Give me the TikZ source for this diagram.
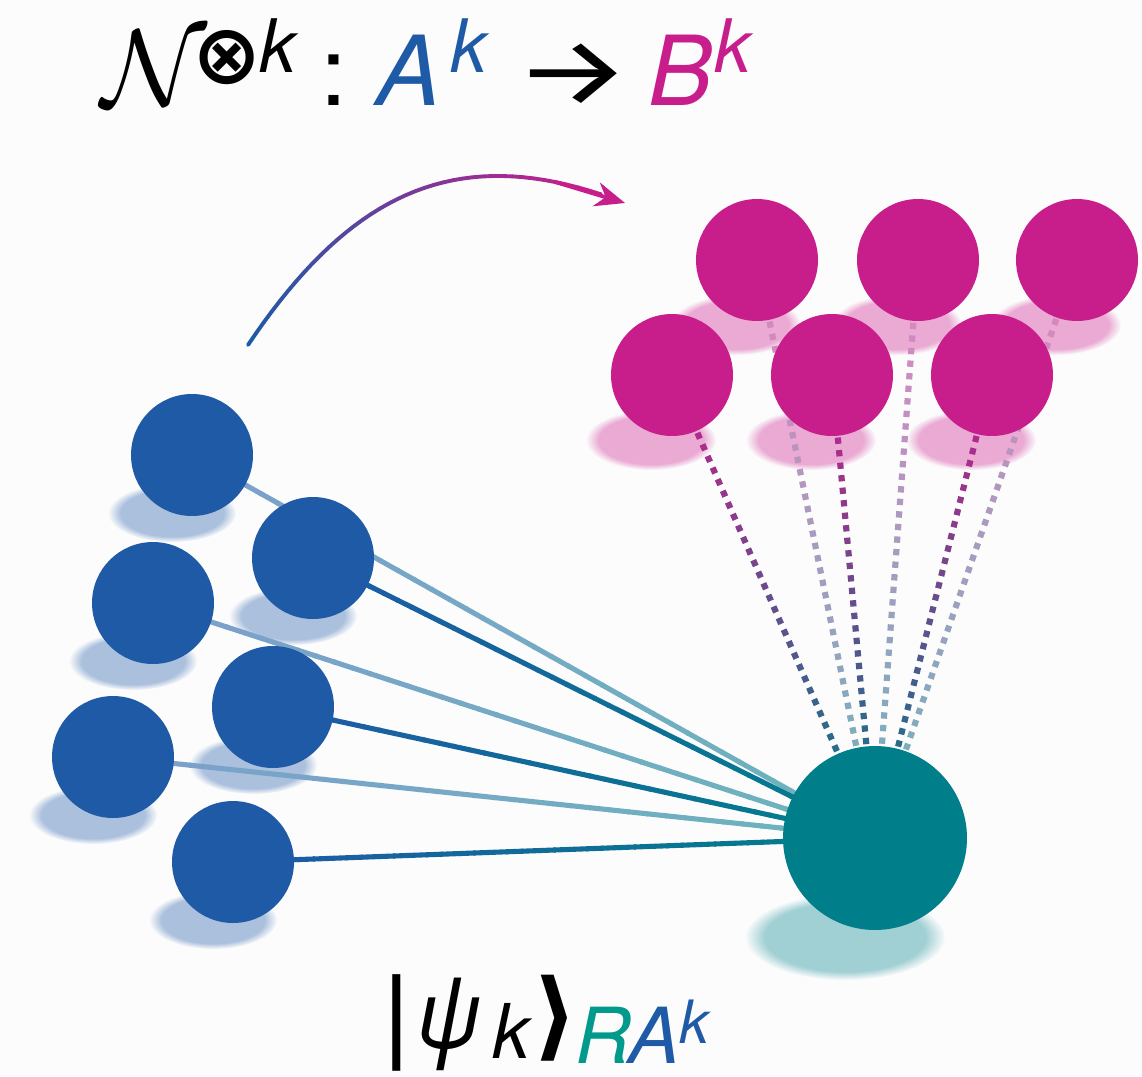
\RequirePackage{fix-cm}
\documentclass[tikz,border=0pt]{standalone}
\usepackage{graphicx}
\usepackage{fontspec}
\usetikzlibrary{calc,fadings,arrows.meta}

\newfontfamily\heros{TeX Gyre Heros}
\newfontfamily\fira{Fira Sans}
\newfontfamily\dejavu{DejaVu Sans}

\definecolor{ablue}{HTML}{1F5AA6}
\definecolor{rteal}{HTML}{007F8A}
\definecolor{rtext}{HTML}{009A8C}
\definecolor{bmag}{HTML}{C81E8C}
\definecolor{paper}{HTML}{FCFCFD}
\colorlet{ablight}{ablue!58!white}
\colorlet{rtlight}{rteal!58!white}
\colorlet{bmlight}{bmag!55!white}
\colorlet{ashade}{ablue!38!white}
\colorlet{bshade}{bmag!38!white}
\colorlet{rshade}{rteal!37!white}

\newcommand{\sv}[1]{{\heros\itshape #1}}
\newcommand{\slot}[2]{\makebox[#1][l]{#2}}
\newcommand{\sizeit}[2]{{\fontsize{#1}{#1}\selectfont #2}}

\pgfdeclarelayer{bg}
\pgfsetlayers{bg,main}

\tikzstyle{adot} = [circle, fill=ablue, minimum size=2.44cm, inner sep=0pt]
\tikzstyle{bdot} = [circle, fill=bmag, minimum size=2.44cm, inner sep=0pt]
\tikzstyle{rdot} = [circle, fill=rteal, minimum size=3.68cm, inner sep=0pt]
\tikzstyle{shadow} = [path fading=circle with fuzzy edge 20 percent]
\tikzstyle{label} = [anchor=base west, inner sep=0pt]

% solid link from #1 to #2, colour going from #3 to #4
\newcommand{\solidlink}[4]{%
  \foreach \i in {0,...,39}{
    \pgfmathsetmacro\pc{100*\i/39}
    \draw[line width=2.9pt, #4!\pc!#3] ($(#1)!\i/40!(#2)$) -- ($(#1)!{(\i+1.1)/40}!(#2)$);
  }}

% dotted link from #1 to #2, colour going from #3 to #4
\newcommand{\dottedlink}[4]{%
  \path let \p1=($(#2)-(#1)$) in
    \pgfextra{\pgfmathtruncatemacro\dotcount{veclen(\x1,\y1)/7.1}\global\let\dotcount\dotcount};
  \foreach \i in {0,...,\dotcount}{
    \pgfmathsetmacro\pc{100*\i/\dotcount}
    \draw[line width=3.5pt, #4!\pc!#3] ($(#1)!\i/\dotcount!(#2)$) -- ($(#1)!{(\i+0.5)/\dotcount}!(#2)$);
  }}

\begin{document}
\begin{tikzpicture}[x=0.02cm,y=-0.02cm]

\useasboundingbox (0,0) rectangle (1142,1076);

% Input systems A
\node [adot] (a1) at (192,455) {};
\node [adot] (a2) at (313,558) {};
\node [adot] (a3) at (153,603) {};
\node [adot] (a4) at (273,707) {};
\node [adot] (a5) at (113,757) {};
\node [adot] (a6) at (233,862) {};

% Reference R
\node [rdot] (r) at (875,838) {};

% Output systems B
\node [bdot] (b1) at (757,260) {};
\node [bdot] (b2) at (918,260) {};
\node [bdot] (b3) at (1077,260) {};
\node [bdot] (b4) at (672,375) {};
\node [bdot] (b5) at (832,375) {};
\node [bdot] (b6) at (992,375) {};

\begin{pgfonlayer}{bg}
\fill [paper] (0,0) rectangle (1142,1076);

% Shadows
\foreach \i in {1,...,6}{
  \fill [ashade, shadow] ($(a\i)+(-20,58)$) ellipse [x radius=1.28cm, y radius=0.58cm];
  \fill [bshade, shadow] ($(b\i)+(-21,65)$) ellipse [x radius=1.3cm, y radius=0.6cm];
}
\fill [rshade, shadow] ($(r)+(-30,99)$) ellipse [x radius=2cm, y radius=0.86cm];

% Entanglement with R
\solidlink{a1}{r}{ablight}{rtlight}
\solidlink{a3}{r}{ablight}{rtlight}
\solidlink{a5}{r}{ablight}{rtlight}
\solidlink{a2}{r}{ablue}{rteal}
\solidlink{a4}{r}{ablue}{rteal}
\solidlink{a6}{r}{ablue}{rteal}

% Channel outputs still tied to R
\dottedlink{b1}{r}{bmlight}{rtlight}
\dottedlink{b2}{r}{bmlight}{rtlight}
\dottedlink{b3}{r}{bmlight}{rtlight}
\dottedlink{b4}{r}{bmag}{rteal}
\dottedlink{b5}{r}{bmag}{rteal}
\dottedlink{b6}{r}{bmag}{rteal}
\end{pgfonlayer}

% Channel arrow
\coordinate (from) at (248,345);
\coordinate (to) at (625,203);
\path (from) .. controls (354,187) and (463,140) .. (to)
  \foreach \i in {0,...,40}{coordinate [pos=\i/40] (cv\i)};
\foreach \i [evaluate=\i as \j using int(\i+1)] in {0,...,37}{
  \pgfmathsetmacro\pc{100*\i/37}
  \draw [line width=2.2pt, line cap=round, bmag!\pc!ablue] (cv\i) -- (cv\j);
}
\draw [line width=2.2pt, bmag, -{Stealth[length=17pt,width=14pt]}] (cv34) -- (cv40);

% Channel label
\node [label] (title) at (101,105) {%
  \slot{52pt}{\sizeit{62pt}{$\mathcal{N}$}}%
  \slot{38.1pt}{\raisebox{12.5pt}{\sizeit{47pt}{\dejavu\bfseries ⊗}}}%
  \slot{34.6pt}{\raisebox{18.7pt}{\sizeit{42pt}{\sv{k}}}}%
  \slot{31.7pt}{\sizeit{55pt}{\heros :}}%
  \slot{42.5pt}{\sizeit{55pt}{\color{ablue}\sv{A}}}%
  \slot{36pt}{\raisebox{18.7pt}{\sizeit{42pt}{\color{ablue}\sv{k}}}}%
  \slot{76.3pt}{\sizeit{55pt}{\fira\scalebox{1.35}[1]{→}}}%
  \slot{38pt}{\sizeit{55pt}{\color{bmag}\sv{B}}}%
  \raisebox{18.7pt}{\sizeit{42pt}{\color{bmag}\sv{k}}}};

% State label
\node [label] (state) at (380,1048) {%
  \slot{21pt}{\sizeit{55pt}{\dejavu |}}%
  \slot{43pt}{\sizeit{55pt}{\scalebox{0.9}[1]{\sv{ψ}}}}%
  \slot{23pt}{\raisebox{-6.2pt}{\sizeit{43pt}{\sv{k}}}}%
  \slot{24pt}{\sizeit{55pt}{\dejavu\bfseries ⟩}}%
  \slot{30pt}{\raisebox{-9pt}{\sizeit{44pt}{\color{rtext}\sv{R}}}}%
  \slot{29pt}{\raisebox{-9pt}{\sizeit{44pt}{\color{ablue}\sv{A}}}}%
  \raisebox{2.3pt}{\sizeit{34pt}{\color{ablue}\sv{k}}}};

\end{tikzpicture}
\end{document}
